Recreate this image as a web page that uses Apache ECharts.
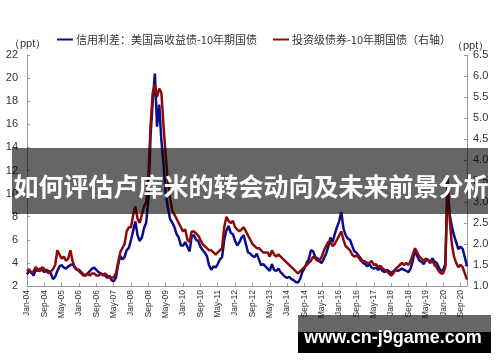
<!DOCTYPE html>
<html><head><meta charset="utf-8">
<script src="https://cdn.jsdelivr.net/npm/echarts@6/dist/echarts.min.js"></script>
<style>html,body{margin:0;padding:0;background:#fff}#c{width:500px;height:362px}</style>
</head><body><div id="c"></div>
<script>
var years = [2004,2005,2006,2007,2008,2009,2010,2011,2012,2013,2014,2015,2016,2017,2018,2019,2020];
var monthNames = ['Jan','Feb','Mar','Apr','May','Jun','Jul','Aug','Sep','Oct','Nov','Dec'];
var seriesNames = ['信用利差：美国高收益债-10年期国债','投资级债券-10年期国债（右轴）'];
var leftTicks = {min:2, max:22, interval:2};
var rightTicks = {min:1, max:6.5, interval:0.5};
var bannerText = '如何评估卢库米的转会动向及未来前景分析';
var siteText = 'www.cn-j9game.com';

var highYield = [
 3.0,3.3,3.2,2.9,3.4,3.3,3.5,3.4,3.2,3.4,3.3,3.1,
 2.6,2.8,3.3,3.7,3.8,3.6,3.5,3.7,3.8,3.9,3.6,3.4,
 3.4,3.2,3.0,2.9,3.1,3.3,3.5,3.6,3.4,3.2,3.1,3.0,
 2.9,2.7,2.9,2.5,2.4,2.7,3.8,4.6,4.3,4.5,5.1,5.3,
 6.0,6.8,7.6,6.4,5.9,6.2,7.0,7.5,9.5,15.0,18.0,20.4,
 15.8,17.7,14.6,12.5,10.0,8.8,7.8,7.5,7.1,6.5,6.2,5.5,
 5.5,5.8,5.4,5.0,6.3,6.4,6.0,5.9,5.4,5.1,4.9,4.6,
 3.8,3.4,3.7,3.6,3.9,4.3,4.5,6.0,6.8,7.2,6.6,6.5,
 5.9,5.5,5.8,6.2,6.4,5.6,4.9,4.8,4.6,4.5,4.8,4.3,
 3.8,3.9,3.7,3.5,3.3,3.9,3.4,3.3,3.5,3.2,3.0,2.8,
 2.7,2.8,2.6,2.5,2.35,2.3,2.6,3.2,3.5,4.0,4.3,5.1,
 5.0,4.5,4.4,4.1,4.0,4.4,4.8,5.4,6.2,5.8,6.5,7.1,
 7.6,8.4,7.0,6.4,6.1,6.0,5.5,5.0,4.9,4.6,4.4,4.0,
 3.9,3.7,3.9,3.6,3.5,3.6,3.4,3.6,3.3,3.2,3.4,3.3,
 3.1,3.3,3.4,3.3,3.4,3.5,3.4,3.3,3.2,3.5,4.2,5.1,
 4.6,4.2,4.1,3.9,4.2,4.3,4.0,4.4,4.1,4.0,3.6,3.3,
 3.4,3.9,10.5,8.2,7.2,6.4,5.8,5.2,5.4,5.2,4.5,3.7
];
var investGrade = [
 1.35,1.4,1.3,1.35,1.45,1.4,1.35,1.45,1.4,1.35,1.3,1.35,
 1.4,1.5,1.85,1.75,1.65,1.7,1.6,1.65,1.85,1.6,1.45,1.4,
 1.35,1.3,1.25,1.25,1.3,1.25,1.3,1.3,1.25,1.25,1.3,1.25,
 1.3,1.25,1.2,1.2,1.2,1.3,1.55,1.8,1.9,2.0,2.3,2.4,
 2.4,2.7,2.9,2.6,2.5,2.7,2.9,3.0,3.6,4.8,5.6,5.8,
 5.5,5.7,5.6,4.8,4.1,3.5,3.1,2.8,2.7,2.6,2.5,2.4,
 2.3,2.35,2.1,2.05,2.3,2.3,2.25,2.2,2.1,2.0,1.95,1.9,
 1.85,1.85,1.8,1.75,1.8,1.85,1.9,2.4,2.65,2.55,2.5,2.55,
 2.4,2.35,2.3,2.35,2.4,2.3,2.2,2.1,2.0,1.95,1.9,1.9,
 1.85,1.8,1.8,1.8,1.7,1.85,1.75,1.7,1.75,1.7,1.65,1.6,
 1.55,1.5,1.45,1.4,1.35,1.3,1.35,1.4,1.45,1.5,1.55,1.6,
 1.7,1.65,1.6,1.62,1.7,1.85,1.95,2.05,2.05,1.95,2.0,2.1,
 2.2,2.3,2.1,1.95,1.9,1.85,1.75,1.7,1.72,1.68,1.6,1.6,
 1.58,1.55,1.55,1.6,1.5,1.52,1.45,1.48,1.42,1.38,1.35,1.3,
 1.25,1.3,1.4,1.45,1.5,1.55,1.5,1.55,1.5,1.6,1.75,1.9,
 1.8,1.7,1.65,1.6,1.65,1.62,1.55,1.6,1.5,1.45,1.35,1.3,
 1.3,1.45,3.6,2.6,2.0,1.7,1.55,1.45,1.5,1.45,1.3,1.15
];

var categories = [];
years.forEach(function(y){
  monthNames.forEach(function(m){ categories.push(m + '-' + String(y).slice(2)); });
});

var chart = echarts.init(document.getElementById('c'));
var txt = '#333';
var font = '"Liberation Sans", Arial, "Noto Sans CJK SC", sans-serif';
chart.setOption({
  animation: false,
  textStyle: {fontFamily: font},
  legend: {
    left: 52, top: 29, itemGap: 16, itemWidth: 16, itemHeight: 2,
    icon: 'rect',
    textStyle: {fontSize: 11, color: txt, fontFamily: '"Noto Sans CJK SC", sans-serif', padding: [0, 0, 0, -2]},
    data: seriesNames
  },
  grid: {left: 27, right: 33, top: 55, bottom: 76},
  xAxis: {
    type: 'category', data: categories, boundaryGap: false,
    axisLine: {lineStyle: {color: '#999'}},
    axisTick: {inside: true, length: 3, interval: 7, lineStyle: {color: '#999'}},
    axisLabel: {interval: 7, rotate: 90, fontSize: 8.5, color: txt, margin: 4}
  },
  yAxis: [{
    type: 'value', min: leftTicks.min, max: leftTicks.max, interval: leftTicks.interval,
    splitLine: {show: false},
    axisLine: {show: true, lineStyle: {color: '#999'}},
    axisTick: {show: true, inside: true, length: 3, lineStyle: {color: '#999'}},
    axisLabel: {fontSize: 11, color: txt, margin: 9}
  }, {
    type: 'value', min: rightTicks.min, max: rightTicks.max, interval: rightTicks.interval,
    splitLine: {show: false},
    axisLine: {show: true, lineStyle: {color: '#999'}},
    axisTick: {show: true, inside: true, length: 3, lineStyle: {color: '#999'}},
    axisLabel: {fontSize: 11, color: txt, margin: 6, formatter: function(v){return v.toFixed(1);}}
  }],
  series: [{
    name: seriesNames[0], type: 'line', data: highYield, yAxisIndex: 0,
    showSymbol: false, symbol: 'none', color: '#0d0d8c',
    lineStyle: {width: 2.5, color: '#0d0d8c'}
  }, {
    name: seriesNames[1], type: 'line', data: investGrade, yAxisIndex: 1,
    showSymbol: false, symbol: 'none', color: '#8c0a0a',
    lineStyle: {width: 2.5, color: '#8c0a0a'}
  }],
  graphic: [
    {type: 'text', left: 9, top: 38, z: 50, style: {text: '（ppt）', fontSize: 11, fill: txt, font: '11px "Noto Sans CJK SC", sans-serif'}},
    {type: 'text', left: 452, top: 40, z: 50, style: {text: '（ppt）', fontSize: 11, fill: txt, font: '11px "Noto Sans CJK SC", sans-serif'}},
    {type: 'rect', z: 100, shape: {x: 12, y: 148, width: 476, height: 66}, style: {fill: 'rgba(0,0,0,0.6)'}},
    {type: 'text', z: 101, x: 251, y: 186, style: {text: bannerText, fill: '#fff', font: 'bold 25px "Noto Sans CJK SC", sans-serif', textAlign: 'center', textVerticalAlign: 'middle'}},
    {type: 'rect', z: 100, shape: {x: 298, y: 315, width: 193, height: 17}, style: {fill: 'rgba(0,0,0,0.6)'}},
    {type: 'rect', z: 100, shape: {x: 298, y: 332, width: 193, height: 21}, style: {fill: '#000'}},
    {type: 'text', z: 101, x: 393, y: 338, style: {text: siteText, fill: '#fff', font: 'bold 18px "Liberation Sans", Arial, sans-serif', textAlign: 'center', textVerticalAlign: 'middle'}}
  ]
});
</script></body></html>
